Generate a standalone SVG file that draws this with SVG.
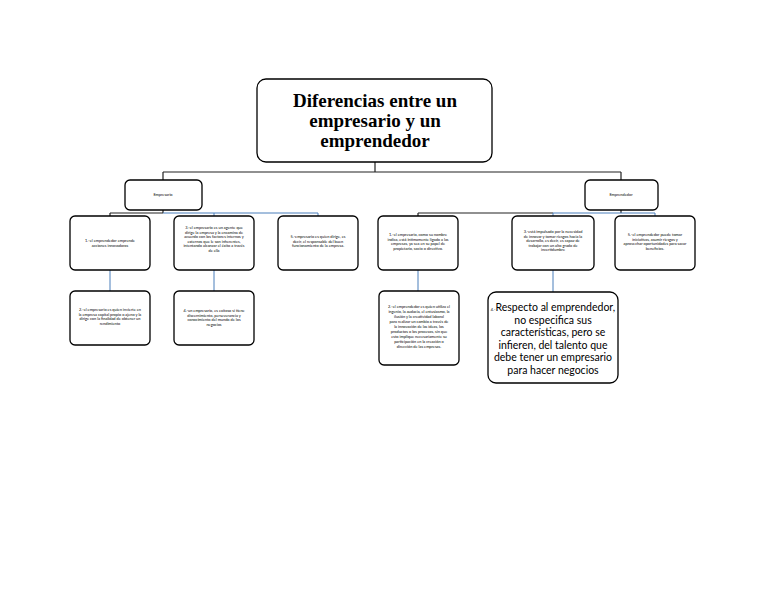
<svg xmlns="http://www.w3.org/2000/svg" width="768" height="594" viewBox="0 0 768 594">
<style>
.box{fill:#fff;stroke:#000;stroke-width:1.3}
.t{font-family:Lato,"Liberation Sans",sans-serif;font-size:3.9px;fill:#000;text-anchor:middle}
.big{font-family:Lato,"Liberation Sans",sans-serif;font-size:10.5px;fill:#000;text-anchor:middle}
.title{font-family:"Liberation Serif",serif;font-size:19px;font-weight:bold;fill:#000;text-anchor:middle}
.k{stroke:#222;stroke-width:1.2;fill:none}
.b{stroke:#4a7ebb;stroke-width:1;fill:none}
</style>
<rect width="768" height="594" fill="#fff"/>
<g id="connectors">
<path class="k" d="M375 162V172M163 172H621M163 172V180M621 172V180"/>
<path class="k" d="M163 210V213M110 213H163M110 213V216"/>
<path class="b" d="M163 213H318M214 213V216M318 213V216"/>
<path class="k" d="M621 210V213M418 213H553M418 213V216"/>
<path class="b" d="M553 213H655M553 213V216M655 213V216"/>
<path class="b" d="M110 270V291M214 270V291M418 270V291M553 270V292"/>
</g>
<g id="title">
<rect class="box" x="257" y="79" width="235" height="83" rx="9"/>
<text class="title" x="375" y="107">Diferencias entre un</text>
<text class="title" x="375" y="127">empresario y un</text>
<text class="title" x="375" y="147">emprendedor</text>
</g>
<g id="empresario">
<rect class="box" x="125" y="180" width="77" height="30" rx="5"/>
<text class="t" x="163" y="196">Empresario</text>
</g>
<g id="emprendedor">
<rect class="box" x="585" y="180" width="73" height="30" rx="5"/>
<text class="t" x="621" y="196">Emprendedor</text>
</g>
<g id="n1">
<rect class="box" x="70" y="216" width="80" height="54" rx="5"/>
<text class="t" x="110" y="242">1.-el emprendedor emprende</text>
<text class="t" x="110" y="246.5">acciones innovadoras</text>
</g>
<g id="n2">
<rect class="box" x="174" y="216" width="80" height="54" rx="5"/>
<text class="t" x="214" y="229">3.-el empresario es un agente que</text>
<text class="t" x="214" y="233.5">dirige la empresa y la encamina de</text>
<text class="t" x="214" y="238">acuerdo con los factores internos y</text>
<text class="t" x="214" y="242.5">externos que le son inherentes,</text>
<text class="t" x="214" y="247">intentando alcanzar el éxito a través</text>
<text class="t" x="214" y="251.5">de ella</text>
</g>
<g id="n3">
<rect class="box" x="278" y="216" width="80" height="54" rx="5"/>
<text class="t" x="318" y="238">5.-empresario es quien dirige, es</text>
<text class="t" x="318" y="242.5">decir, el responsable del buen</text>
<text class="t" x="318" y="247">funcionamiento de la empresa.</text>
</g>
<g id="n4">
<rect class="box" x="378" y="216" width="80" height="54" rx="5"/>
<text class="t" x="418" y="236">1.-el empresario, como su nombre</text>
<text class="t" x="418" y="240.5">indica, está íntimamente ligado a las</text>
<text class="t" x="418" y="245">empresas, ya sea en su papel de</text>
<text class="t" x="418" y="249.5">propietario, socio o directivo.</text>
</g>
<g id="n5">
<rect class="box" x="512" y="216" width="82" height="54" rx="5"/>
<text class="t" x="553" y="233">3.-está impulsado por la necesidad</text>
<text class="t" x="553" y="237.5">de innovar y tomar riesgos hacia la</text>
<text class="t" x="553" y="242">desarrollo, es decir, es capaz de</text>
<text class="t" x="553" y="246.5">trabajar con un alto grado de</text>
<text class="t" x="553" y="251">incertidumbre</text>
</g>
<g id="n6">
<rect class="box" x="615" y="216" width="80" height="54" rx="5"/>
<text class="t" x="655" y="236">5.-el emprendedor puede tomar</text>
<text class="t" x="655" y="240.5">iniciativas, asumir riesgos y</text>
<text class="t" x="655" y="245">aprovechar oportunidades para sacar</text>
<text class="t" x="655" y="249.5">beneficios.</text>
</g>
<g id="n7">
<rect class="box" x="70" y="291" width="80" height="54" rx="5"/>
<text class="t" x="110" y="311">2.-el empresario es quien invierte en</text>
<text class="t" x="110" y="315.5">la empresa capital propio o ajeno y la</text>
<text class="t" x="110" y="320">dirige con la finalidad de obtener un</text>
<text class="t" x="110" y="324.5">rendimiento</text>
</g>
<g id="n8">
<rect class="box" x="174" y="291" width="80" height="54" rx="5"/>
<text class="t" x="214" y="312">4.-un empresario, es exitoso si tiene</text>
<text class="t" x="214" y="316.5">discernimiento, perseverancia y</text>
<text class="t" x="214" y="321">conocimiento del mundo de los</text>
<text class="t" x="214" y="325.5">negocios</text>
</g>
<g id="n9">
<rect class="box" x="379" y="291" width="80" height="74" rx="5"/>
<text class="t" x="419" y="308">2.-el emprendedor es quien utiliza el</text>
<text class="t" x="419" y="313">ingenio, la audacia, el entusiasmo, la</text>
<text class="t" x="419" y="318">ilusión y la creatividad laboral</text>
<text class="t" x="419" y="323">para realizar un cambio a través de</text>
<text class="t" x="419" y="328">la innovación de las ideas, los</text>
<text class="t" x="419" y="333">productos o los procesos, sin que</text>
<text class="t" x="419" y="338">esto implique necesariamente su</text>
<text class="t" x="419" y="343">participación en la creación o</text>
<text class="t" x="419" y="348">dirección de las empresas.</text>
</g>
<g id="n10">
<rect class="box" x="488" y="292" width="130" height="91" rx="8"/>
<text class="big" x="553" y="311"><tspan font-size="3.9px">4.-</tspan>Respecto al emprendedor,</text>
<text class="big" x="553" y="323.5">no especifica sus</text>
<text class="big" x="553" y="336">características, pero se</text>
<text class="big" x="553" y="348.5">infieren, del talento que</text>
<text class="big" x="553" y="361">debe tener un empresario</text>
<text class="big" x="553" y="373.5">para hacer negocios</text>
</g>
</svg>
